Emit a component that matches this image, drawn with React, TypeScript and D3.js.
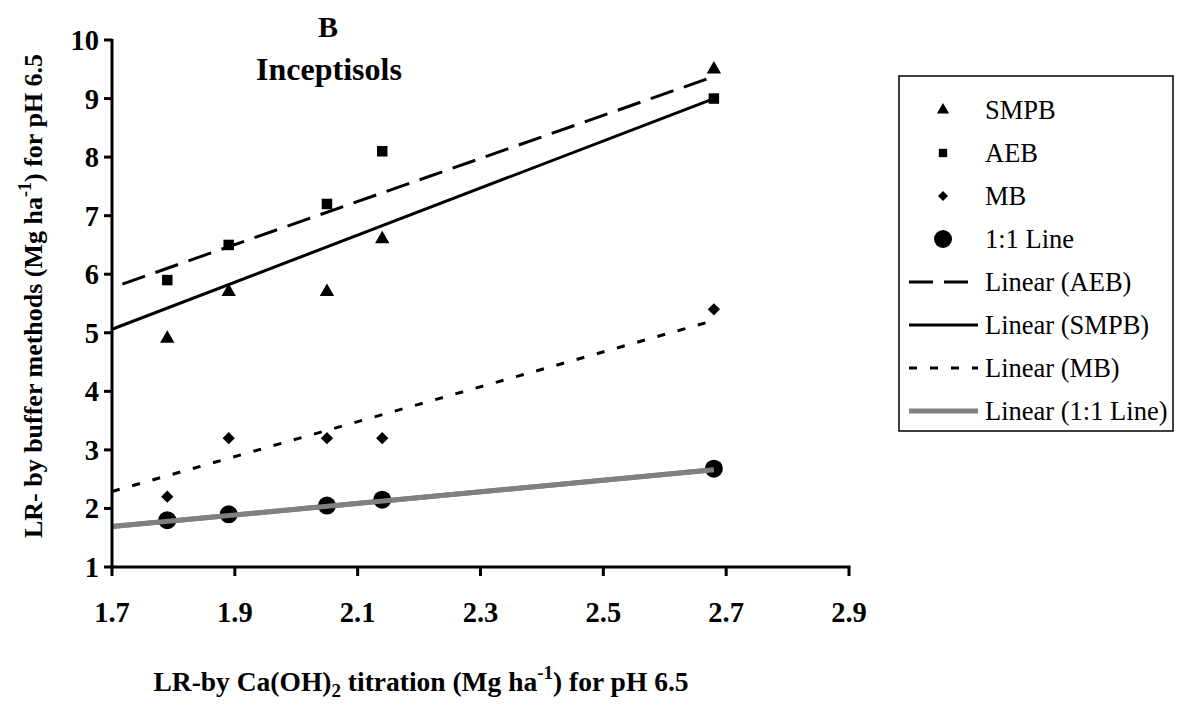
import React from "react";
import * as d3 from "d3";

const xValues = [1.79, 1.89, 2.05, 2.14, 2.68];
const smpb = [4.9, 5.7, 5.7, 6.6, 9.5];
const aeb = [5.9, 6.5, 7.2, 8.1, 9.0];
const mb = [2.2, 3.2, 3.2, 3.2, 5.4];
const oneToOne = [1.8, 1.9, 2.05, 2.15, 2.68];

// trend lines as drawn (slope, intercept), from x = 1.7 to 2.68
const trendNames = ["Linear (AEB)", "Linear (SMPB)", "Linear (MB)", "Linear (1:1 Line)"];
const trendSlopes = [3.68, 4.02, 2.98, 0.99];
const trendIntercepts = [-0.486, -1.774, -2.776, 0.007];
const trendRange = [1.7, 2.68];

const markerNames = ["SMPB", "AEB", "MB", "1:1 Line"];
const xTicks = [1.7, 1.9, 2.1, 2.3, 2.5, 2.7, 2.9];
const yTicks = [1, 2, 3, 4, 5, 6, 7, 8, 9, 10];

const W = 1181;
const H = 709;
const FONT = '"Liberation Serif", "Times New Roman", serif';

export default function App() {
  const x = d3.scaleLinear().domain([1.7, 2.9]).range([112, 849]);
  const y = d3.scaleLinear().domain([1, 10]).range([567, 40]);

  const tri = d3.symbol().type(d3.symbolTriangle).size(90)()!;
  const sq = d3.symbol().type(d3.symbolSquare).size(110)()!;
  const dia = d3.symbol().type(d3.symbolSquare).size(75)()!;
  const legTri = d3.symbol().type(d3.symbolTriangle).size(65)()!;
  const legSq = d3.symbol().type(d3.symbolSquare).size(70)()!;
  const legDia = d3.symbol().type(d3.symbolSquare).size(50)()!;

  const trendStyles = [
    { stroke: "#000", width: 3, dash: "24 11", offset: 24 },
    { stroke: "#000", width: 3, dash: "", offset: 0 },
    { stroke: "#000", width: 3, dash: "8 13", offset: 0 },
    { stroke: "#808080", width: 5, dash: "", offset: 0 },
  ];

  const trendPath = (i: number) => {
    const pts = trendRange.map(
      (xv) => [x(xv), y(trendSlopes[i] * xv + trendIntercepts[i])] as [number, number]
    );
    return d3.line()(pts)!;
  };

  const legendX = 899;
  const legendY = 76;
  const legendW = 274;
  const legendH = 355;
  const rowY = (i: number) => 110 + i * 43;

  const txt = { fontFamily: FONT };

  return (
    <svg
      width={W}
      height={H}
      style={{ position: "absolute", left: 0, top: 0, background: "#fff", fontFamily: FONT }}
    >
      <rect x={0} y={0} width={W} height={H} fill="#fff" />

      {/* title */}
      <text x={328} y={37} textAnchor="middle" fontSize={30} fontWeight="bold" style={txt}>
        B
      </text>
      <text x={329} y={80} textAnchor="middle" fontSize={32} fontWeight="bold" style={txt}>
        Inceptisols
      </text>

      {/* trend lines */}
      {trendSlopes.map((s, i) => {
        const st = trendStyles[i];
        return (
          <path
            key={"t" + i}
            d={trendPath(i)}
            stroke={st.stroke}
            strokeWidth={st.width}
            strokeDasharray={st.dash || undefined}
            strokeDashoffset={st.offset}
            fill="none"
          />
        );
      })}

      {/* markers */}
      {xValues.map((xv, i) => (
        <path key={"s" + i} d={tri} transform={`translate(${x(xv)},${y(smpb[i])})`} fill="#000" />
      ))}
      {xValues.map((xv, i) => (
        <path key={"a" + i} d={sq} transform={`translate(${x(xv)},${y(aeb[i])})`} fill="#000" />
      ))}
      {xValues.map((xv, i) => (
        <path
          key={"m" + i}
          d={dia}
          transform={`translate(${x(xv)},${y(mb[i])}) rotate(45)`}
          fill="#000"
        />
      ))}
      {xValues.map((xv, i) => (
        <circle key={"o" + i} cx={x(xv)} cy={y(oneToOne[i])} r={9} fill="#000" />
      ))}
      <path d={trendPath(3)} stroke="#808080" strokeWidth={5} fill="none" />

      {/* axes */}
      <line x1={112} y1={y(10) - 1} x2={112} y2={567 + 1.5} stroke="#000" strokeWidth={3} />
      <line x1={110.5} y1={567} x2={x(2.9) + 1.5} y2={567} stroke="#000" strokeWidth={3} />
      {yTicks.map((t) => (
        <g key={"yt" + t}>
          <line x1={104} x2={112} y1={y(t)} y2={y(t)} stroke="#000" strokeWidth={3} />
          <text x={99} y={y(t) + 10} textAnchor="end" fontSize={28.5} fontWeight="bold" style={txt}>
            {t}
          </text>
        </g>
      ))}
      {xTicks.map((t) => (
        <g key={"xt" + t}>
          <line x1={x(t)} x2={x(t)} y1={567} y2={576} stroke="#000" strokeWidth={3} />
          <text x={x(t)} y={622} textAnchor="middle" fontSize={28.5} fontWeight="bold" style={txt}>
            {d3.format(".1f")(t)}
          </text>
        </g>
      ))}

      {/* axis titles */}
      <text x={421} y={691} textAnchor="middle" fontSize={27.5} fontWeight="bold" style={txt}>
        LR-by Ca(OH)
        <tspan fontSize={19} dy={6}>2</tspan>
        <tspan dy={-6}> titration (Mg ha</tspan>
        <tspan fontSize={19} dy={-12}>-1</tspan>
        <tspan dy={12}>) for pH 6.5</tspan>
      </text>
      <text
        transform={`translate(42,296) rotate(-90)`}
        textAnchor="middle"
        fontSize={26}
        fontWeight="bold"
        style={txt}
      >
        LR- by buffer methods (Mg ha
        <tspan fontSize={18} dy={-11}>-1</tspan>
        <tspan dy={11}>) for pH 6.5</tspan>
      </text>

      {/* legend */}
      <rect
        x={legendX}
        y={legendY}
        width={legendW}
        height={legendH}
        fill="#fff"
        stroke="#000"
        strokeWidth={1.5}
      />
      <path d={legTri} transform={`translate(943,${rowY(0)})`} fill="#000" />
      <path d={legSq} transform={`translate(943,${rowY(1)})`} fill="#000" />
      <path d={legDia} transform={`translate(943,${rowY(2)}) rotate(45)`} fill="#000" />
      <circle cx={943} cy={rowY(3)} r={9} fill="#000" />
      {markerNames.map((n, i) => (
        <text key={"ln" + i} x={985} y={rowY(i) + 9} fontSize={26.5} style={txt}>
          {n}
        </text>
      ))}
      {trendNames.map((n, i) => {
        const st = trendStyles[i];
        return (
          <g key={"lt" + i}>
            <line
              x1={909}
              x2={978}
              y1={rowY(4 + i)}
              y2={rowY(4 + i)}
              stroke={st.stroke}
              strokeWidth={st.width}
              strokeDasharray={st.dash || undefined}
            />
            <text x={985} y={rowY(4 + i) + 9} fontSize={26.5} style={txt}>
              {n}
            </text>
          </g>
        );
      })}
    </svg>
  );
}
